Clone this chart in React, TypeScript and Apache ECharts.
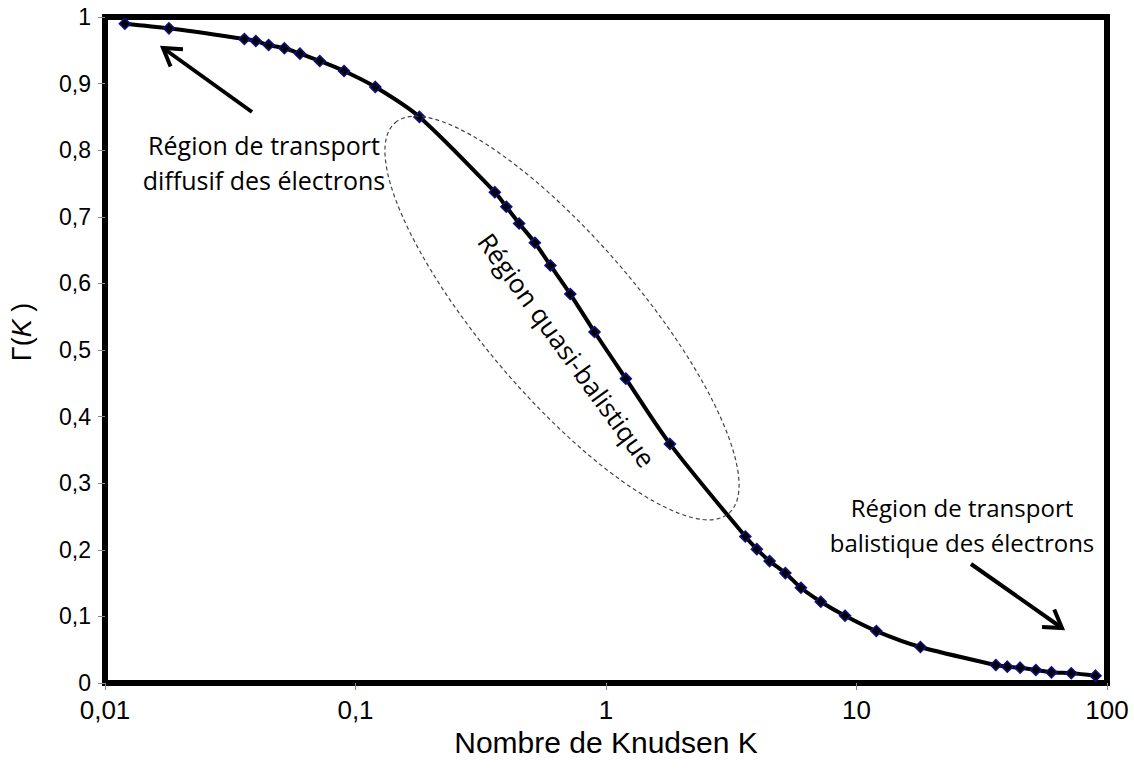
import React, { useEffect, useRef } from "react";
import * as echarts from "echarts";

const knudsen = [0.012, 0.018, 0.036, 0.04, 0.045, 0.052, 0.06, 0.072, 0.09, 0.12, 0.18, 0.36, 0.4, 0.45, 0.52, 0.6, 0.72, 0.9, 1.2, 1.8, 3.6, 4, 4.5, 5.2, 6, 7.2, 9, 12, 18, 36, 40, 45, 52, 60, 72, 90];
const gamma = [0.99, 0.983, 0.967, 0.964, 0.958, 0.953, 0.945, 0.934, 0.919, 0.895, 0.85, 0.737, 0.715, 0.69, 0.661, 0.627, 0.584, 0.527, 0.457, 0.359, 0.22, 0.201, 0.183, 0.165, 0.143, 0.122, 0.101, 0.078, 0.054, 0.027, 0.0245, 0.023, 0.0195, 0.016, 0.0146, 0.011];
const xTickLabels = ["0,01", "0,1", "1", "10", "100"];
const yTickLabels = ["0", "0,1", "0,2", "0,3", "0,4", "0,5", "0,6", "0,7", "0,8", "0,9", "1"];

const annoFont = "'Open Sans', 'Noto Sans', sans-serif";
const narrowFont = "'Liberation Sans Narrow', 'Liberation Sans', Arial, sans-serif";
const sansFont = "'Liberation Sans', Arial, sans-serif";

function arrow(x1: number, y1: number, x2: number, y2: number) {
  const dx = x2 - x1, dy = y2 - y1;
  const len = Math.sqrt(dx * dx + dy * dy);
  const ux = dx / len, uy = dy / len;
  const h = 20, a = (32 * Math.PI) / 180;
  const rot = (ang: number) => [
    x2 - h * (ux * Math.cos(ang) - uy * Math.sin(ang)),
    y2 - h * (ux * Math.sin(ang) + uy * Math.cos(ang)),
  ];
  const p1 = rot(a), p2 = rot(-a);
  return [
    { type: "line", shape: { x1, y1, x2, y2 }, style: { stroke: "#000", lineWidth: 4 } },
    { type: "polyline", shape: { points: [p1, [x2, y2], p2] }, style: { stroke: "#000", lineWidth: 4, fill: null, lineJoin: "miter" } },
  ];
}

export default function App() {
  const ref = useRef<HTMLDivElement>(null);
  useEffect(() => {
    const chart = echarts.init(ref.current!, null, { renderer: "svg" });
    const data = knudsen.map((k, i) => [k, gamma[i]]);
    chart.setOption({
      animation: false,
      backgroundColor: "#fff",
      grid: { left: 103, right: 27, top: 17, bottom: 86, show: true, borderColor: "#000", borderWidth: 6, backgroundColor: "transparent" },
      xAxis: {
        type: "log",
        logBase: 10,
        min: 0.01,
        max: 100,
        name: "Nombre de Knudsen K",
        nameLocation: "middle",
        nameGap: 42,
        nameTextStyle: { fontFamily: narrowFont, fontSize: 30, color: "#000" },
        axisLine: { show: false },
        axisTick: { show: true, length: 7, lineStyle: { color: "#888", width: 1 } },
        splitLine: { show: false },
        axisLabel: {
          margin: 14,
          fontFamily: narrowFont,
          fontSize: 26,
          color: "#000",
          formatter: (v: number) => {
            const idx = Math.round(Math.log10(v)) + 2;
            return xTickLabels[idx] ?? "";
          },
        },
      },
      yAxis: {
        type: "value",
        min: 0,
        max: 1,
        interval: 0.1,
        name: "Γ({i|K} )",
        nameLocation: "middle",
        nameGap: 70,
        nameRotate: 90,
        nameTextStyle: { fontFamily: sansFont, fontSize: 27, color: "#000", padding: [0, 0, 0, 36], rich: { i: { fontFamily: sansFont, fontSize: 27, fontStyle: "italic", color: "#000" } } },
        axisLine: { show: false },
        axisTick: { show: true, length: 7, lineStyle: { color: "#888", width: 1 } },
        splitLine: { show: false },
        axisLabel: {
          margin: 14,
          fontFamily: sansFont,
          fontSize: 23,
          color: "#000",
          formatter: (v: number) => yTickLabels[Math.round(v * 10)] ?? "",
        },
      },
      series: [
        {
          type: "line",
          data,
          smooth: 0.3,
          lineStyle: { color: "#000", width: 4 },
          symbol: "diamond",
          symbolSize: 11,
          itemStyle: { color: "#000", borderColor: "#10108a", borderWidth: 1.5 },
          z: 3,
        },
      ],
      graphic: [
        {
          type: "ellipse",
          x: 562,
          y: 318,
          rotation: (-49.5 * Math.PI) / 180,
          shape: { cx: 0, cy: 0, rx: 257, ry: 78 },
          style: { fill: null, stroke: "#444", lineWidth: 1.2, lineDash: [4, 3] },
          z: 10,
        },
        {
          type: "text",
          x: 567,
          y: 350,
          rotation: (-54 * Math.PI) / 180,
          style: { text: "Région quasi-balistique", fontFamily: annoFont, fontSize: 26, fill: "#000", align: "center", verticalAlign: "middle" },
          z: 10,
        },
        {
          type: "text",
          x: 264,
          y: 162,
          style: { text: "Région de transport\ndiffusif des électrons", fontFamily: annoFont, fontSize: 25, lineHeight: 35, fill: "#000", align: "center", verticalAlign: "middle" },
          z: 10,
        },
        {
          type: "text",
          x: 962,
          y: 525,
          style: { text: "Région de transport\nbalistique des électrons", fontFamily: annoFont, fontSize: 24, lineHeight: 35, fill: "#000", align: "center", verticalAlign: "middle" },
          z: 10,
        },
        ...arrow(252, 112, 163, 48).map((g) => ({ ...g, z: 10 })),
        ...arrow(971, 564, 1062, 628).map((g) => ({ ...g, z: 10 })),
      ],
    });
    return () => chart.dispose();
  }, []);
  return <div ref={ref} style={{ position: "fixed", left: 0, top: 0, width: 1134, height: 769 }} />;
}
